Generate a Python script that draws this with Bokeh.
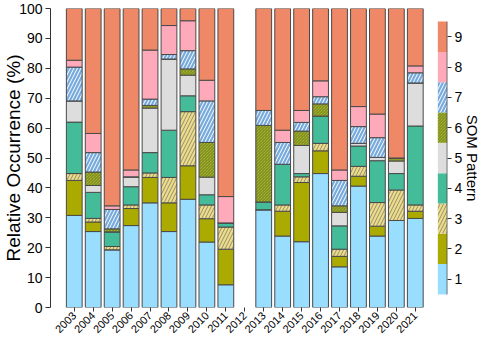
import numpy as np
from math import pi
from bokeh.plotting import figure
from bokeh.models import ColumnDataSource, Range1d, LinearAxis, FixedTicker
from bokeh.embed import file_html
from bokeh.resources import INLINE

nan = float("nan")

# ---------------- data ----------------
years = ["2003", "2004", "2005", "2006", "2007", "2008", "2009", "2010", "2011", "2012",
         "2013", "2014", "2015", "2016", "2017", "2018", "2019", "2020", "2021"]

som1 = [30.8, 25.4, 19.3, 27.4, 35.0, 25.4, 36.2, 21.9, 7.6, nan, 32.7, 23.9, 22.0, 44.8, 13.6, 40.6, 23.9, 29.1, 29.8]
som2 = [11.7, 3.2, 0.0, 5.7, 8.5, 9.6, 11.2, 7.8, 11.9, nan, 0.0, 8.3, 19.8, 7.6, 3.5, 3.3, 3.3, 0.0, 2.4]
som3 = [2.3, 1.2, 1.1, 1.2, 1.5, 8.5, 18.1, 4.6, 7.4, nan, 0.0, 2.1, 1.9, 2.5, 2.4, 3.3, 7.9, 10.2, 2.1]
som4 = [17.2, 8.7, 4.9, 6.1, 6.8, 15.8, 5.3, 3.4, 1.4, nan, 2.6, 13.6, 1.1, 9.1, 7.8, 6.8, 14.0, 5.5, 26.4]
som5 = [7.1, 2.3, 0.0, 3.3, 14.9, 23.8, 6.9, 5.9, 0.0, nan, 0.0, 0.0, 9.4, 0.0, 4.5, 0.9, 1.1, 4.2, 14.4]
som6 = [0.0, 4.5, 1.0, 0.0, 0.9, 0.0, 2.1, 11.6, 0.0, nan, 25.6, 0.0, 4.8, 4.1, 2.2, 0.0, 0.0, 1.0, 0.0]
som7 = [11.3, 6.5, 6.5, 0.0, 2.1, 1.5, 6.1, 13.9, 0.0, nan, 5.0, 7.3, 2.9, 2.4, 8.5, 5.6, 6.6, 0.0, 3.4]
som8 = [2.3, 6.4, 1.2, 2.3, 16.4, 9.7, 10.0, 6.9, 8.8, nan, 0.0, 4.1, 4.0, 5.3, 3.5, 6.7, 7.9, 0.0, 2.3]
som9 = [17.3, 41.8, 66.0, 54.0, 13.9, 5.7, 4.1, 24.0, 62.9, nan, 34.1, 40.7, 34.1, 24.2, 54.0, 32.8, 35.3, 50.0, 19.2]

patterns = [1, 2, 3, 4, 5, 6, 7, 8, 9]
y_ticks = [0, 10, 20, 30, 40, 50, 60, 70, 80, 90, 100]

# ---------------- styles ----------------
colors = ["#99DDFF", "#AAAA00", "#EEDD88", "#44BB99", "#DDDDDD", "#BBCC33", "#77AADD", "#FFAABB", "#EE8866"]
hatch_pat = [" ", " ", "/", " ", " ", "\\", "/", " ", " "]
hatch_col = ["black", "black", "#6a6a6a", "black", "black", "#3f4a10", "white", "black", "black"]
hatch_scl = [6, 6, 7, 6, 6, 3, 7, 6, 6]
hatch_wgt = [0.7, 0.7, 0.7, 0.7, 0.7, 0.6, 1.0, 0.7, 0.7]

FONT = "Liberation Sans"
BAR_W = 1 / 1.2
X0, X1 = -1.254, 19.70
CB_L, CB_R = 19.19, 19.685

series = [som1, som2, som3, som4, som5, som6, som7, som8, som9]
xs = np.arange(len(years))
vals = np.array(series, dtype=float)
tops = np.cumsum(vals, axis=0)
bottoms = tops - vals

p = figure(width=484, height=339, x_range=Range1d(X0, X1), y_range=Range1d(0, 100),
           output_backend="svg", toolbar_location=None,
           min_border_top=8, min_border_left=0, min_border_right=0, min_border_bottom=0)
p.outline_line_color = None
p.xgrid.visible = False
p.ygrid.visible = False
p.extra_y_ranges = {"cb": Range1d(0.067, 9.933)}

for k in range(9):
    src = ColumnDataSource(dict(x=xs, bottom=bottoms[k], top=tops[k]))
    kw = {}
    if hatch_pat[k].strip():
        kw = dict(hatch_pattern=hatch_pat[k], hatch_color=hatch_col[k],
                  hatch_scale=hatch_scl[k], hatch_weight=hatch_wgt[k])
    p.vbar(x="x", bottom="bottom", top="top", width=BAR_W, source=src,
           fill_color=colors[k], line_color="#4a4a4a", line_width=1, **kw)

# colour bar legend
cb_src = ColumnDataSource(dict(
    bottom=[v - 0.5 for v in patterns], top=[v + 0.5 for v in patterns],
    color=colors, hp=hatch_pat, hc=hatch_col, hs=hatch_scl, hw=hatch_wgt))
p.quad(left=CB_L, right=CB_R, bottom="bottom", top="top", source=cb_src,
       fill_color="color", line_color=None, hatch_pattern="hp", hatch_color="hc",
       hatch_scale="hs", hatch_weight="hw", y_range_name="cb")
p.segment(x0=CB_R, y0=patterns[0] - 0.5, x1=CB_R, y1=patterns[-1] + 0.5,
          line_color="#333333", line_width=1, y_range_name="cb")

# x axis
xa = p.xaxis[0]
xa.ticker = FixedTicker(ticks=[int(i) for i in xs])
xa.major_label_overrides = {int(i): y for i, y in zip(xs, years)}
xa.major_label_orientation = pi / 4
xa.axis_line_color = None
xa.major_tick_out = 4
xa.major_tick_in = 0
xa.minor_tick_out = 0
xa.minor_tick_in = 0
xa.major_tick_line_color = "#333333"
xa.major_label_standoff = 2
xa.major_label_text_font = FONT
xa.major_label_text_font_size = "11px"
xa.major_label_text_color = "black"

# y axis
ya = p.yaxis[0]
ya.ticker = FixedTicker(ticks=y_ticks)
ya.axis_label = "Relative Occurrence (%)"
ya.axis_label_text_font = FONT
ya.axis_label_text_font_size = "19px"
ya.axis_label_text_font_style = "normal"
ya.axis_label_text_color = "black"
ya.axis_label_standoff = -8
ya.major_label_text_font = FONT
ya.major_label_text_font_size = "14px"
ya.major_label_text_color = "black"
ya.major_label_standoff = 3
ya.major_tick_out = 5
ya.major_tick_in = 0
ya.minor_tick_out = 0
ya.minor_tick_in = 0
ya.axis_line_color = "#333333"
ya.major_tick_line_color = "#333333"

# right axis for colour bar
ra = LinearAxis(y_range_name="cb", ticker=FixedTicker(ticks=patterns))
ra.axis_label = "SOM Pattern"
ra.axis_label_text_font = FONT
ra.axis_label_text_font_size = "15px"
ra.axis_label_text_font_style = "normal"
ra.axis_label_text_color = "black"
ra.axis_label_standoff = -1
ra.major_label_text_font = FONT
ra.major_label_text_font_size = "14px"
ra.major_label_text_color = "black"
ra.major_label_standoff = 3
ra.major_tick_out = 4
ra.major_tick_in = 0
ra.minor_tick_out = 0
ra.minor_tick_in = 0
ra.axis_line_color = None
ra.major_tick_line_color = "#333333"
p.add_layout(ra, "right")

open("out.html", "w").write(file_html(p, INLINE))
